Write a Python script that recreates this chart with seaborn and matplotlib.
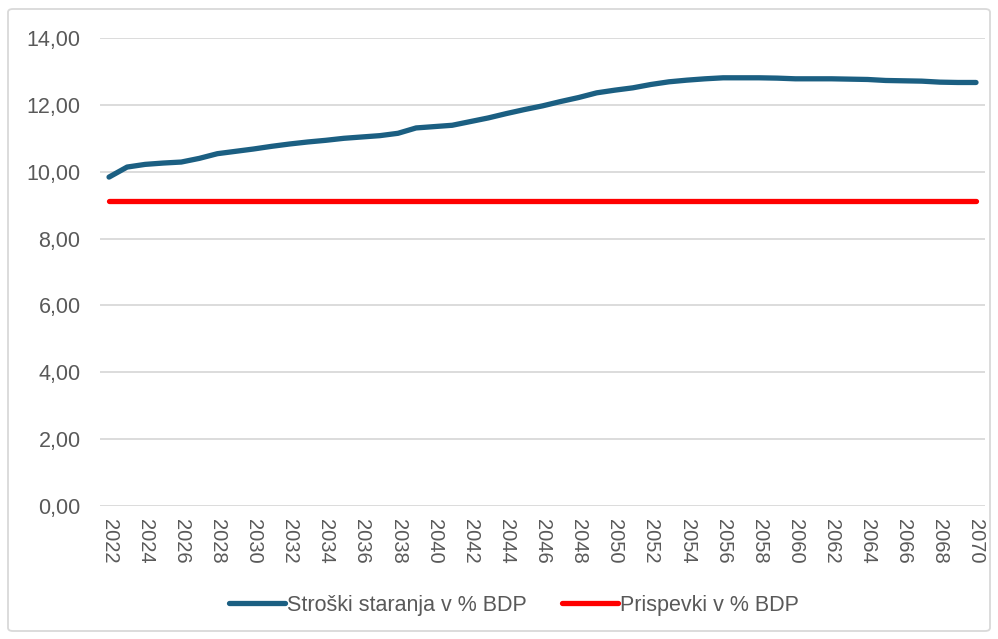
import numpy as np
import pandas as pd
import matplotlib.pyplot as plt
import seaborn as sns
from matplotlib.ticker import FuncFormatter, MultipleLocator
from matplotlib.patches import FancyBboxPatch

# Data
years = list(range(2022, 2071))
stroski = [9.84, 10.14, 10.22, 10.26, 10.29, 10.40, 10.54, 10.61, 10.68, 10.76,
           10.83, 10.89, 10.94, 11.00, 11.04, 11.08, 11.15, 11.31, 11.35, 11.39,
           11.50, 11.61, 11.74, 11.86, 11.97, 12.10, 12.22, 12.36, 12.44, 12.51,
           12.61, 12.69, 12.74, 12.78, 12.81, 12.81, 12.81, 12.80, 12.78, 12.78,
           12.78, 12.77, 12.76, 12.73, 12.72, 12.71, 12.68, 12.67, 12.67]
prispevki = [9.13] * len(years)
series_names = ["Stroški staranja v % BDP", "Prispevki v % BDP"]
series_colors = ["#1B5F82", "#FF0000"]

df = pd.DataFrame({
    "leto": years * 2,
    "vrednost": stroski + prispevki,
    "serija": [series_names[0]] * len(years) + [series_names[1]] * len(years),
})

sns.set_theme(style="white")
plt.rcParams['font.family'] = ['Liberation Sans', 'DejaVu Sans']

fig = plt.figure(figsize=(9.98, 6.39), dpi=100)
ax = fig.add_axes([0.1002, 0.2081, 0.8868, 0.7324])

sns.lineplot(data=df, x="leto", y="vrednost", hue="serija",
             palette=series_colors, linewidth=3.8, ax=ax, legend=False,
             solid_capstyle="round")

ax.set_xlim(2021.5, 2070.5)
ax.set_ylim(0, 14)
ax.yaxis.set_major_locator(MultipleLocator(2))
ax.yaxis.set_major_formatter(FuncFormatter(lambda v, p: f"{v:.2f}".replace(".", ",")))
ax.set_xticks(years[::2])
ax.set_xticklabels([str(y) for y in years[::2]], rotation=-90)
ax.grid(axis="y", color="#D9D9D9", linewidth=1.3)
ax.set_axisbelow(True)
for s in ax.spines.values():
    s.set_visible(False)
ax.tick_params(axis="y", length=0, pad=14, labelsize=15.5, labelcolor="#595959")
ax.tick_params(axis="x", length=0, pad=9, labelsize=14.5, labelcolor="#595959")
ax.set_xlabel("")
ax.set_ylabel("")

handles = [plt.Line2D([], [], color=c, linewidth=3.8, solid_capstyle="round")
           for c in series_colors]
fig.legend(handles, series_names, loc="center", bbox_to_anchor=(0.515, 0.053),
           ncol=2, frameon=False, fontsize=15.5, handlelength=2.6,
           handletextpad=0.1, columnspacing=1.6, labelcolor="#595959")

# light outer frame around the chart
fig.patches.append(FancyBboxPatch((8 / 998, 8 / 639), 982 / 998, 622 / 639,
                                  boxstyle="round,pad=0,rounding_size=0.005",
                                  transform=fig.transFigure, fill=False,
                                  edgecolor="#D9D9D9", linewidth=1.3))

plt.savefig("out.png", dpi=100)
